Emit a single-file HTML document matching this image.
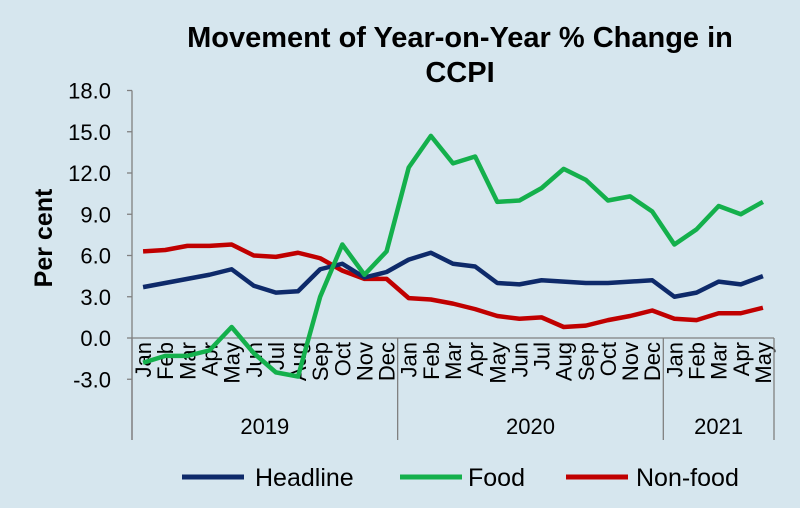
<!DOCTYPE html>
<html><head><meta charset="utf-8"><style>
html,body{margin:0;padding:0;background:#d6e6ee;}
svg{display:block;font-family:"Liberation Sans",Arial,sans-serif;}
</style></head><body>
<svg id="chart" width="800" height="508" viewBox="0 0 800 508">
<rect width="800" height="508" fill="#d6e6ee"/>
<text x="460" y="47" text-anchor="middle" font-size="29" font-weight="bold" fill="#000">Movement of Year-on-Year % Change in</text>
<text x="460" y="82" text-anchor="middle" font-size="29" font-weight="bold" fill="#000">CCPI</text>
<text transform="translate(52,238) rotate(-90)" text-anchor="middle" font-size="25" font-weight="bold">Per cent</text>
<g id="axes"></g>
<g id="series"></g>
<g>
 <g><line x1="182" y1="477" x2="244" y2="477" stroke="#0e2a6a" stroke-width="5"/><text x="255" y="486" font-size="25">Headline</text></g>
 <g><line x1="400" y1="477" x2="462" y2="477" stroke="#14b04c" stroke-width="5"/><text x="468" y="486" font-size="25">Food</text></g>
 <g><line x1="566" y1="477" x2="628" y2="477" stroke="#c00000" stroke-width="5"/><text x="636" y="486" font-size="25">Non-food</text></g>
</g>
</svg>
<script>
const months = ["Jan","Feb","Mar","Apr","May","Jun","Jul","Aug","Sep","Oct","Nov","Dec","Jan","Feb","Mar","Apr","May","Jun","Jul","Aug","Sep","Oct","Nov","Dec","Jan","Feb","Mar","Apr","May"];
const years = ["2019","2020","2021"];
const yearCounts = [12,12,5];
const yTicks = [-3,0,3,6,9,12,15,18];
const headline = [3.7,4.0,4.3,4.6,5.0,3.8,3.3,3.4,5.0,5.4,4.4,4.8,5.7,6.2,5.4,5.2,4.0,3.9,4.2,4.1,4.0,4.0,4.1,4.2,3.0,3.3,4.1,3.9,4.5];
const food = [-1.8,-1.3,-1.3,-0.9,0.8,-1.1,-2.5,-2.8,3.0,6.8,4.6,6.3,12.4,14.7,12.7,13.2,9.9,10.0,10.9,12.3,11.5,10.0,10.3,9.2,6.8,7.9,9.6,9.0,9.9];
const nonfood = [6.3,6.4,6.7,6.7,6.8,6.0,5.9,6.2,5.8,4.9,4.3,4.3,2.9,2.8,2.5,2.1,1.6,1.4,1.5,0.8,0.9,1.3,1.6,2.0,1.4,1.3,1.8,1.8,2.2];

const NS="http://www.w3.org/2000/svg";
const X0=132, X1=774, Y0=338, PPU=13.75;
const bw=(X1-X0)/months.length;
const xs=i=>X0+bw*(i+0.5);
const ys=v=>Y0-v*PPU;
function mk(t,a,p){const e=document.createElementNS(NS,t);for(const k in a)e.setAttribute(k,a[k]);p.appendChild(e);return e;}
const axes=document.getElementById('axes');
const grey="#808080";
const ya=mk('line',{x1:X0,y1:ys(18),x2:X0,y2:440,stroke:grey,'stroke-width':1.3},axes);


yTicks.forEach(v=>{
 const t=mk('line',{x1:X0-5,y1:ys(v),x2:X0,y2:ys(v),stroke:grey,'stroke-width':1.3},axes);
 
 
 const l=mk('text',{x:111,y:ys(v)+8,'text-anchor':'end','font-size':22},axes);
 l.textContent=v.toFixed(1);
 
 
});
const z=mk('line',{x1:X0,y1:Y0,x2:X1,y2:Y0,stroke:grey,'stroke-width':1.3},axes);


months.forEach((m,i)=>{
 const t=mk('text',{transform:`translate(${xs(i)+8},${Y0+4}) rotate(-90)`,'text-anchor':'end','font-size':22},axes);
 t.textContent=m;
 
 
});
let start=0;
const sep0=mk('line',{x1:X0,y1:Y0,x2:X0,y2:440,stroke:grey,'stroke-width':1.3},axes);


years.forEach((y,k)=>{
 const end=start+yearCounts[k];
 const xe=X0+bw*end;
 const s=mk('line',{x1:xe,y1:Y0,x2:xe,y2:440,stroke:grey,'stroke-width':1.3},axes);
 
 
 const t=mk('text',{x:(X0+bw*start+xe)/2,y:434,'text-anchor':'middle','font-size':22},axes);
 t.textContent=y;
 
 
 start=end;
});
const sg=document.getElementById('series');
[[nonfood,"#c00000","non-food-line"],[headline,"#0e2a6a","headline-line"],[food,"#14b04c","food-line"]].forEach(([d,c,n])=>{
 const p=mk('polyline',{points:d.map((v,i)=>xs(i)+','+ys(v)).join(' '),fill:'none',stroke:c,'stroke-width':4.5,'stroke-linejoin':'round'},sg);
 
 
});
</script>
</body></html>
